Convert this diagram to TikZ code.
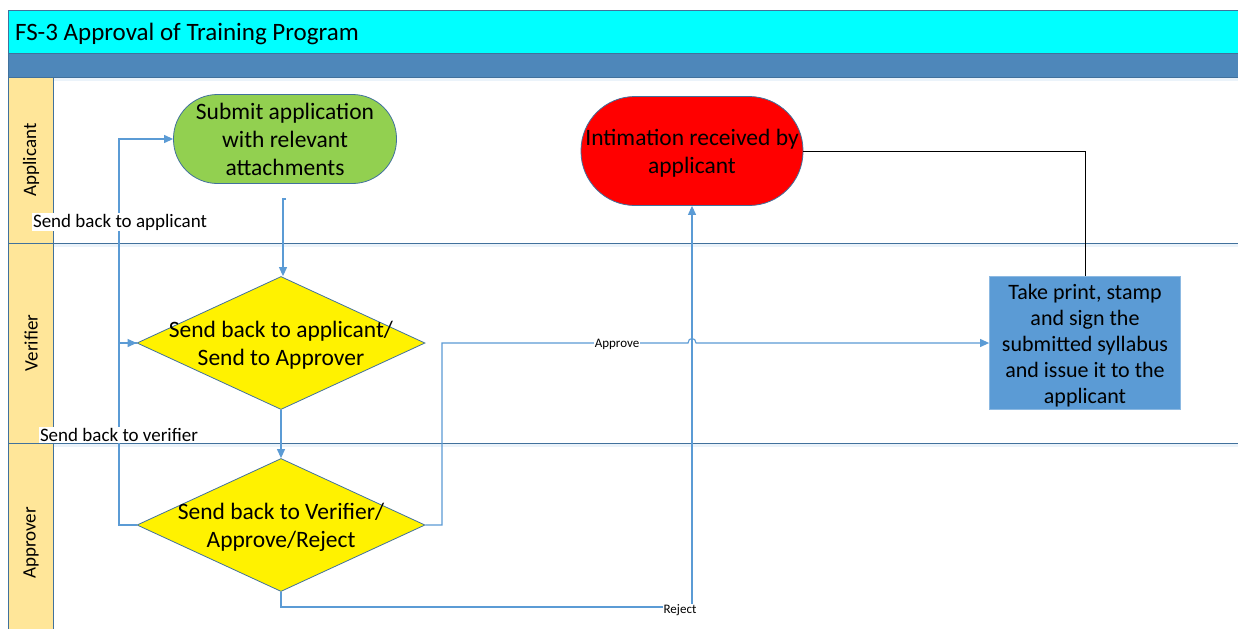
\documentclass[tikz,border=0pt]{standalone}
\usepackage{fontspec}
\setmainfont{Carlito}
\usetikzlibrary{arrows.meta,calc,shapes.geometric}
\definecolor{titlecyan}{HTML}{00FFFF}
\definecolor{bandblue}{HTML}{4E87BA}
\definecolor{laneyellow}{HTML}{FFE699}
\definecolor{laneline}{HTML}{41719C}
\definecolor{flowblue}{HTML}{5B9BD5}
\definecolor{termgreen}{HTML}{92D050}
\definecolor{boxblue}{HTML}{5B9BD5}
\tikzset{
  laneborder/.style={draw=laneline, line width=1pt},
  flow/.style={draw=flowblue, line width=1.1pt, -{Triangle[length=9pt,width=8pt]}},
  nodetext/.style={font=\fontsize{23.5}{28}\selectfont, align=center, text=black, yshift=-2.5pt},
  boxtext/.style={font=\fontsize{22}{26}\selectfont, align=center, text=black, yshift=-2.5pt},
  lanetext/.style={font=\fontsize{19}{22}\selectfont, rotate=90},
  sidelabel/.style={font=\fontsize{19}{22}\selectfont, fill=white, inner sep=1pt},
  smalllabel/.style={font=\fontsize{13}{15}\selectfont, fill=white, inner sep=0.5pt},
  terminal/.style={draw=laneline, line width=0.8pt, inner sep=0pt},
  decision/.style={diamond, draw=laneline, line width=0.8pt, fill=yellow, inner sep=0pt},
  process/.style={rectangle, draw=flowblue!70!white, line width=0.8pt, fill=boxblue, inner sep=0pt}
}
\begin{document}
\begin{tikzpicture}[x=1pt,y=-1pt]
\useasboundingbox (0,0) rectangle (1238,629);
\fill[white] (0,0) rectangle (1238,629);
% pool and lanes
\fill[titlecyan] (8,10) rectangle (1238,53);
\fill[bandblue] (8,53) rectangle (1238,77);
\fill[laneyellow] (8,77) rectangle (53,629);
\draw[flowblue!12!white, line width=3pt] (53,79.5) -- (1238,79.5);
\draw[flowblue!12!white, line width=3pt] (53,245.5) -- (1238,245.5);
\draw[flowblue!12!white, line width=3pt] (53,445.5) -- (1238,445.5);
\draw[laneborder] (1238,10) -- (8,10) -- (8,629);
\draw[laneborder] (8,53) -- (1238,53);
\draw[laneborder] (8,77) -- (1238,77);
\draw[laneborder] (53,77) -- (53,629);
\draw[laneborder] (8,243) -- (1238,243);
\draw[laneborder] (8,443) -- (1238,443);
\node[anchor=west, font=\fontsize{25}{29}\selectfont, inner sep=0pt] (title) at (15,33.5) {FS-3 Approval of Training Program};
\node[lanetext] (laneA) at (31,160) {Applicant};
\node[lanetext] (laneV) at (31,343) {Verifier};
\node[lanetext] (laneP) at (31,543) {Approver};
% shapes
\node[terminal, fill=termgreen, rounded corners=44pt, minimum width=223pt, minimum height=89pt] (submit) at (285,139) {};
\node[nodetext, yshift=2.5pt] (submitT) at (submit) {Submit application\\with relevant\\attachments};
\node[terminal, fill=red, rounded corners=54pt, minimum width=222pt, minimum height=109pt] (intim) at (692,151) {};
\node[nodetext] (intimT) at (intim) {Intimation received by\\applicant};
\node[decision, minimum width=288pt, minimum height=133pt] (verif) at (281,343) {};
\node[nodetext] (verifT) at (verif) {Send back to applicant/\\Send to Approver};
\node[decision, minimum width=288pt, minimum height=133pt] (appr) at (281,525) {};
\node[nodetext] (apprT) at (appr) {Send back to Verifier/\\Approve/Reject};
\node[process, minimum width=191pt, minimum height=133pt] (issue) at (1085,343) {};
\node[boxtext] (issueT) at (issue) {Take print, stamp\\and sign the\\submitted syllabus\\and issue it to the\\applicant};
% connectors
\coordinate (startS) at (283,199);
\coordinate (leftX) at (119,0);
\coordinate (rightX) at (442,0);
\coordinate (hop) at (692,343);
\coordinate (bottomY) at (0,607);
\draw[flow] ($(startS)+(3,0)$) -- (startS) -- (startS |- verif.north);
\draw[flow] (verif.south) -- (appr.north);
\draw[flow] (appr.west) -- (appr.west -| leftX) |- (verif.west);
\draw[flow] (verif.west) -- (verif.west -| leftX) |- (submit.west);
\draw[flow] (appr.east) -- (appr.east -| rightX) -- (rightX |- issue.west) -- ($(hop)+(-4,0)$) .. controls ($(hop)+(-4,-6)$) and ($(hop)+(4,-6)$) .. ($(hop)+(4,0)$) -- (issue.west);
\draw[flow] (appr.south) -- (appr.south |- bottomY) -| (intim.south);
\draw[black, line width=0.8pt] (issue.north) |- (intim.east);
% labels
\node[sidelabel] (lblA) at (120,222) {Send back to applicant};
\node[sidelabel] (lblV) at (119,435) {Send back to verifier};
\node[smalllabel] (lblApp) at (617,344) {Approve};
\node[smalllabel] (lblRej) at (680,610) {Reject};
\end{tikzpicture}
\end{document}
